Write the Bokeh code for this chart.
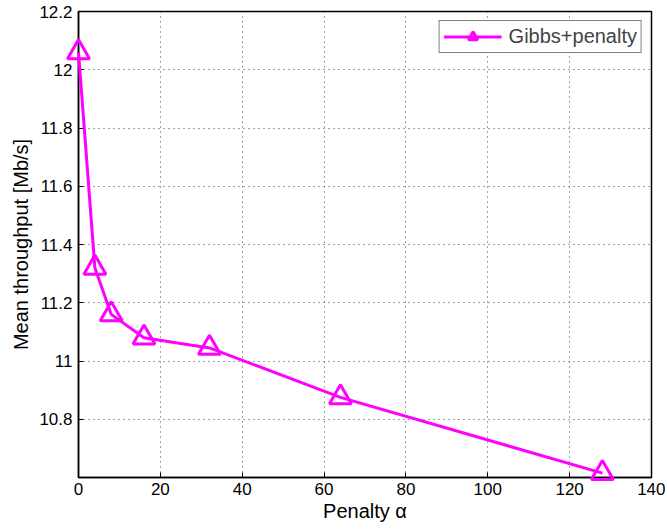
from bokeh.plotting import figure
from bokeh.models import Range1d, FixedTicker, CustomJSTickFormatter, Legend, LegendItem
from bokeh.embed import file_html
from bokeh.resources import INLINE

penalty = [0, 4, 8, 16, 32, 64, 128]
throughput = [12.06, 11.32, 11.16, 11.08, 11.045, 10.875, 10.615]
series_name = "Gibbs+penalty"
x_ticks = [0, 20, 40, 60, 80, 100, 120, 140]
y_ticks = [10.8, 11.0, 11.2, 11.4, 11.6, 11.8, 12.0, 12.2]

FONT = "Liberation Sans"
MAG = "#FF00FF"

p = figure(width=665, height=524, output_backend="svg", toolbar_location=None,
           x_range=Range1d(0, 140), y_range=Range1d(10.6, 12.2),
           min_border_left=78, min_border_top=11, min_border_right=14, min_border_bottom=44)

ln = p.line(penalty, throughput, line_color=MAG, line_width=3, level="overlay")
mk = p.scatter(penalty, throughput, marker="triangle", size=22, fill_color=None,
               line_color=MAG, line_width=3, level="overlay")

p.xaxis.ticker = FixedTicker(ticks=x_ticks)
p.yaxis.ticker = FixedTicker(ticks=y_ticks)
p.yaxis.formatter = CustomJSTickFormatter(code="return (Math.round(tick*10)/10).toString();")

for ax in (p.xaxis[0], p.yaxis[0]):
    ax.major_tick_in = 5
    ax.major_tick_out = 0
    ax.minor_tick_in = 0
    ax.minor_tick_out = 0
    ax.axis_line_color = "black"
    ax.axis_line_width = 1.5
    ax.major_label_text_font = FONT
    ax.major_label_text_font_size = "17px"
    ax.major_label_text_color = "black"
    ax.axis_label_text_font = FONT
    ax.axis_label_text_font_size = "20px"
    ax.axis_label_text_font_style = "normal"
    ax.axis_label_text_color = "black"

p.xaxis.axis_label = "Penalty α"
p.yaxis.axis_label = "Mean throughput [Mb/s]"
p.xaxis.major_label_standoff = 5
p.yaxis.major_label_standoff = 6
p.xaxis.axis_label_standoff = 2
p.yaxis.axis_label_standoff = 4

p.grid.grid_line_color = "#444444"
p.grid.grid_line_dash = "1 4"
p.grid.grid_line_width = 1
p.outline_line_color = "black"
p.outline_line_width = 1.5

legend = Legend(items=[LegendItem(label=series_name, renderers=[ln, mk])],
                location="top_right")
legend.label_text_font = FONT
legend.label_text_font_size = "20px"
legend.border_line_color = "black"
legend.border_line_width = 1.2
legend.margin = 9
legend.padding = 4
legend.glyph_width = 58
legend.glyph_height = 23
legend.label_height = 23
legend.label_standoff = 7
legend.spacing = 0
p.add_layout(legend)

open("out.html", "w").write(file_html(p, INLINE))
